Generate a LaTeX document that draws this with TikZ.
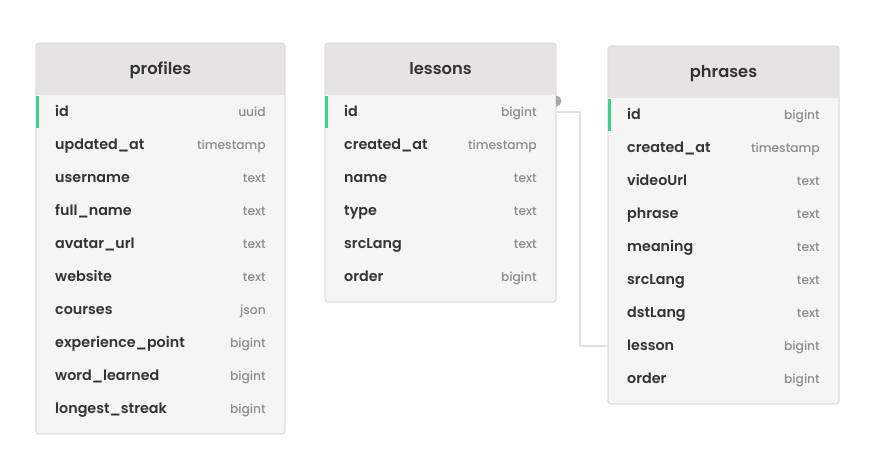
\documentclass[tikz,border=0pt]{standalone}
\usepackage{fontspec}
\setmainfont{Poppins}[BoldFont={Poppins Medium}]
\newfontfamily\semib{Poppins SemiBold}
\definecolor{hdr}{HTML}{E5E4E2}
\definecolor{bodyc}{HTML}{F5F5F4}
\definecolor{brd}{HTML}{DCDCDA}
\definecolor{keyg}{HTML}{3ECF8E}
\definecolor{txt}{HTML}{333333}
\definecolor{typ}{HTML}{8C8C8C}
\definecolor{lnk}{HTML}{E0E0E0}
\definecolor{dot}{HTML}{A8A8A8}
\tikzset{
  tbl/.style={draw=brd, line width=0.8pt, fill=bodyc, rounded corners=3pt},
  colname/.style={anchor=base west, text=txt, font=\fontsize{14.3}{14.3}\selectfont\semib, inner sep=0pt},
  coltype/.style={anchor=base east, text=typ, font=\fontsize{12.3}{12.3}\selectfont\bfseries, inner sep=0pt},
  title/.style={anchor=base, text=txt, font=\fontsize{16.3}{16.3}\selectfont\semib, inner sep=0pt},
  link/.style={draw=lnk, line width=2pt},
}
\newcommand{\mytable}[7]{
  \path[tbl] (#2,#4) rectangle (#3,#5);
  \begin{scope}
  \clip[rounded corners=3pt] (#2,#4) rectangle (#3,#5);
  \fill[hdr] (#2,#4) rectangle (#3,#4+52);
  \end{scope}
  \draw[brd, line width=0.8pt, rounded corners=3pt] (#2,#4) rectangle (#3,#5);
  \node[title] (#1-title) at ({(#2+#3)/2},#4+31) {#6};
  \fill[keyg] (#2,#4+53) rectangle (#2+2.6,#4+85);
  \foreach \n/\t [count=\i] in {#7} {
    \node[colname] (#1-n\i) at (#2+19,#4+40.5+33*\i) {\n};
    \node[coltype] (#1-t\i) at (#3-19,#4+40.5+33*\i) {\t};
    \coordinate (#1-L\i) at (#2,#4+36+33*\i);
    \coordinate (#1-R\i) at (#3,#4+36+33*\i);
  }
}
\begin{document}
\begin{tikzpicture}[x=1pt,y=-1pt]
\useasboundingbox (0,0) rectangle (876,472);
\fill[white] (0,0) rectangle (876,472);
\mytable{prof}{36}{285}{43}{434}{profiles}{id/uuid,updated\_at/timestamp,username/text,full\_name/text,avatar\_url/text,website/text,courses/json,experience\_point/bigint,word\_learned/bigint,longest\_streak/bigint}
\mytable{less}{325}{556}{43}{302}{lessons}{id/bigint,created\_at/timestamp,name/text,type/text,srcLang/text,order/bigint}
\mytable{phr}{608}{839}{46}{404}{phrases}{id/bigint,created\_at/timestamp,videoUrl/text,phrase/text,meaning/text,srcLang/text,dstLang/text,lesson/bigint,order/bigint}
\coordinate (bend1) at (580,0);
\draw[link] (less-R1) -- (less-R1 -| bend1) |- (phr-L8);
\fill[dot] (less-R1) ++(0,-5.5) arc[start angle=90, end angle=-90, radius=5.5] -- cycle;
\end{tikzpicture}
\end{document}
